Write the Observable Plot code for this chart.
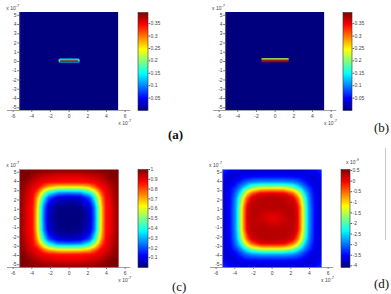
<!DOCTYPE html>
<html><head><meta charset="utf-8">
<script src="https://cdn.jsdelivr.net/npm/d3@7"></script>
<script src="https://cdn.jsdelivr.net/npm/@observablehq/plot@0.6"></script>
<style>
body{margin:0;background:#fff;}
#fig{position:relative;width:391px;height:294px;overflow:hidden;font-family:"Liberation Sans",Arial,sans-serif;background:#fff;}
.lbl{position:absolute;font-family:"Liberation Serif","Times New Roman",serif;font-size:13px;color:#111;line-height:1;}
.exp{position:absolute;font-size:5px;color:#444;line-height:1;white-space:nowrap;}
.exp sup{font-size:4px;}
#vline{position:absolute;left:385px;top:148px;width:1px;height:92px;background:#c8c8c8;}
</style></head>
<body><div id="fig"><div id="vline"></div></div>
<script>
// ---- tick labels ----
const xTicks = [-6, -4, -2, 0, 2, 4, 6];
const yTicks = [-5, -4, -3, -2, -1, 0, 1, 2, 3, 4, 5];
const cbTicksAB = [0.05, 0.1, 0.15, 0.2, 0.25, 0.3, 0.35];
const cbTicksC = [0.1, 0.2, 0.3, 0.4, 0.5, 0.6, 0.7, 0.8, 0.9, 1];
const cbTicksD = [-4, -3.5, -3, -2.5, -2, -1.5, -1, -0.5, 0, 0.5];

// ---- colour ranges ----
const domAB = [0, 0.395];
const domC = [0, 1];
const domD = [-4.08, 0.55];

// ---- panel (a): background and bar ----
const bgA = [0.0];
const barAX1 = [-1.08, -0.95, -0.95];
const barAX2 = [1.18, 1.05, 1.05];
const barAY1 = [-0.17, 0.04, -0.08];
const barAY2 = [0.26, 0.16, 0.04];
const barAVal = [0.14, 0.31, 0.39];

// ---- panel (b): background and bar ----
const bgB = [0.0];
const barBX1 = [-1.4, -1.4, -1.4];
const barBX2 = [1.5, 1.5, 1.5];
const barBY1 = [0.18, 0.06, -0.14];
const barBY2 = [0.30, 0.18, 0.06];
const barBVal = [0.22, 0.29, 0.38];

// ---- grid for panels (c) and (d) ----
const gridX = [-5.3, -4.5, -3.9, -3.5, -3.1, -2.7, -2.2, -1.2, 0, 1.2, 2.2, 2.7, 3.1, 3.5, 3.9, 4.5, 5.3];
const gridY = [5.3, 4.5, 3.9, 3.5, 3.1, 2.7, 2.2, 1.2, 0, -1.2, -2.2, -2.7, -3.1, -3.5, -3.9, -4.5, -5.3];

const fieldC = [
 [1,1,1,1,1,0.99,0.99,0.99,0.99,0.99,0.99,0.99,1,1,1,1,1],
 [1,1,0.97,0.95,0.94,0.93,0.92,0.90,0.90,0.90,0.92,0.93,0.94,0.95,0.97,1,1],
 [1,0.97,0.93,0.91,0.89,0.88,0.87,0.86,0.86,0.86,0.87,0.88,0.89,0.91,0.93,0.97,1],
 [1,0.95,0.91,0.89,0.86,0.80,0.74,0.69,0.68,0.69,0.74,0.80,0.86,0.89,0.91,0.95,1],
 [1,0.94,0.89,0.86,0.76,0.66,0.55,0.46,0.45,0.46,0.55,0.66,0.76,0.86,0.89,0.94,1],
 [0.99,0.93,0.88,0.80,0.66,0.51,0.37,0.24,0.22,0.24,0.37,0.51,0.66,0.80,0.88,0.93,0.99],
 [0.99,0.92,0.87,0.74,0.55,0.37,0.19,0.08,0.06,0.08,0.19,0.37,0.55,0.74,0.87,0.92,0.99],
 [0.99,0.90,0.86,0.69,0.46,0.24,0.08,0.01,0.00,0.01,0.08,0.24,0.46,0.69,0.86,0.90,0.99],
 [0.99,0.90,0.86,0.68,0.45,0.22,0.06,0.00,0.00,0.00,0.06,0.22,0.45,0.68,0.86,0.90,0.99],
 [0.99,0.90,0.86,0.69,0.46,0.24,0.08,0.01,0.00,0.01,0.08,0.24,0.46,0.69,0.86,0.90,0.99],
 [0.99,0.92,0.87,0.74,0.55,0.37,0.19,0.08,0.06,0.08,0.19,0.37,0.55,0.74,0.87,0.92,0.99],
 [0.99,0.93,0.88,0.80,0.66,0.51,0.37,0.24,0.22,0.24,0.37,0.51,0.66,0.80,0.88,0.93,0.99],
 [1,0.94,0.89,0.86,0.76,0.66,0.55,0.46,0.45,0.46,0.55,0.66,0.76,0.86,0.89,0.94,1],
 [1,0.95,0.91,0.89,0.86,0.80,0.74,0.69,0.68,0.69,0.74,0.80,0.86,0.89,0.91,0.95,1],
 [1,0.97,0.93,0.91,0.89,0.88,0.87,0.86,0.86,0.86,0.87,0.88,0.89,0.91,0.93,0.97,1],
 [1,1,0.97,0.95,0.94,0.93,0.92,0.90,0.90,0.90,0.92,0.93,0.94,0.95,0.97,1,1],
 [1,1,1,1,1,0.99,0.99,0.99,0.99,0.99,0.99,0.99,1,1,1,1,1]
];

const fieldD = [
 [-3.30,-3.50,-3.60,-3.66,-3.70,-3.72,-3.74,-3.75,-3.75,-3.75,-3.74,-3.72,-3.70,-3.66,-3.60,-3.50,-3.30],
 [-3.50,-3.72,-3.65,-3.59,-3.54,-3.50,-3.47,-3.45,-3.45,-3.45,-3.47,-3.50,-3.54,-3.59,-3.65,-3.72,-3.50],
 [-3.60,-3.65,-3.50,-3.36,-3.15,-2.99,-2.86,-2.76,-2.75,-2.76,-2.86,-2.99,-3.15,-3.36,-3.50,-3.65,-3.60],
 [-3.66,-3.59,-3.36,-3.06,-2.80,-2.46,-2.11,-1.83,-1.80,-1.83,-2.11,-2.46,-2.80,-3.06,-3.36,-3.59,-3.66],
 [-3.70,-3.54,-3.15,-2.80,-2.24,-1.73,-1.22,-0.79,-0.75,-0.79,-1.22,-1.73,-2.24,-2.80,-3.15,-3.54,-3.70],
 [-3.72,-3.50,-2.99,-2.46,-1.73,-1.04,-0.44,0.06,0.12,0.06,-0.44,-1.04,-1.73,-2.46,-2.99,-3.50,-3.72],
 [-3.74,-3.47,-2.86,-2.11,-1.22,-0.44,0.15,0.28,0.30,0.28,0.15,-0.44,-1.22,-2.11,-2.86,-3.47,-3.74],
 [-3.75,-3.45,-2.76,-1.83,-0.79,0.06,0.28,0.30,0.30,0.30,0.28,0.06,-0.79,-1.83,-2.76,-3.45,-3.75],
 [-3.75,-3.45,-2.75,-1.80,-0.75,0.12,0.30,0.20,0.05,0.20,0.30,0.12,-0.75,-1.80,-2.75,-3.45,-3.75],
 [-3.75,-3.45,-2.76,-1.83,-0.79,0.06,0.28,0.30,0.30,0.30,0.28,0.06,-0.79,-1.83,-2.76,-3.45,-3.75],
 [-3.74,-3.47,-2.86,-2.11,-1.22,-0.44,0.15,0.28,0.30,0.28,0.15,-0.44,-1.22,-2.11,-2.86,-3.47,-3.74],
 [-3.72,-3.50,-2.99,-2.46,-1.73,-1.04,-0.44,0.06,0.12,0.06,-0.44,-1.04,-1.73,-2.46,-2.99,-3.50,-3.72],
 [-3.70,-3.54,-3.15,-2.80,-2.24,-1.73,-1.22,-0.79,-0.75,-0.79,-1.22,-1.73,-2.24,-2.80,-3.15,-3.54,-3.70],
 [-3.66,-3.59,-3.36,-3.06,-2.80,-2.46,-2.11,-1.83,-1.80,-1.83,-2.11,-2.46,-2.80,-3.06,-3.36,-3.59,-3.66],
 [-3.60,-3.65,-3.50,-3.36,-3.15,-2.99,-2.86,-2.76,-2.75,-2.76,-2.86,-2.99,-3.15,-3.36,-3.50,-3.65,-3.60],
 [-3.50,-3.72,-3.65,-3.59,-3.54,-3.50,-3.47,-3.45,-3.45,-3.45,-3.47,-3.50,-3.54,-3.59,-3.65,-3.72,-3.50],
 [-3.30,-3.50,-3.60,-3.66,-3.70,-3.72,-3.74,-3.75,-3.75,-3.75,-3.74,-3.72,-3.70,-3.66,-3.60,-3.50,-3.30]
];

// ---- jet colormap ----
const jetStops = [0, 0.125, 0.375, 0.625, 0.875, 1];
const jetColors = ["#00007f", "#0000ff", "#00ffff", "#ffff00", "#ff0000", "#7f0000"];
function jet(dom) {
  return {type: "linear", domain: jetStops.map(t => dom[0] + t * (dom[1] - dom[0])),
          range: jetColors, interpolate: d3.interpolateRgb, clamp: true};
}

const fig = document.getElementById("fig");
const E = 5.3;            // data half-extent
const XE = 6.6;           // x axis half-extent
const k = 99 / (2 * E);   // px per unit
const ML = 8, MT = 6, MB = 16, MR = 6;
const fmt = d => String(d);

function place(el, left, top) {
  el.style.position = "absolute";
  el.style.left = left + "px";
  el.style.top = top + "px";
  fig.appendChild(el);
}

function gridPoints(field) {
  const pts = [];
  gridY.forEach((y, i) => gridX.forEach((x, j) => pts.push({x, y, v: field[i][j]})));
  return pts;
}

function panel(dataLeft, dataTop, dom, dataMarks) {
  const fw = 2 * XE * k;
  const el = Plot.plot({
    width: ML + fw + MR, height: MT + 98 + MB,
    marginLeft: ML, marginRight: MR, marginTop: MT, marginBottom: MB,
    x: {domain: [-XE, XE], label: null},
    y: {domain: [-E, E], label: null},
    color: jet(dom),
    style: {background: "transparent", overflow: "visible", fontFamily: "Liberation Sans, Arial, sans-serif"},
    marks: [
      ...dataMarks,
      Plot.ruleY([-E], {stroke: "#777", strokeWidth: 0.7}),
      Plot.ruleX([-E], {stroke: "#777", strokeWidth: 0.7}),
      Plot.axisX(xTicks, {tickSize: 2, tickPadding: 1.5, fontSize: 5, stroke: "#777", fill: "#444", tickFormat: fmt, label: null}),
      Plot.axisY(yTicks, {dx: (XE - E) * k, tickSize: 2, tickPadding: 1, fontSize: 5, stroke: "#777", fill: "#444", tickFormat: fmt, label: null})
    ]
  });
  place(el, dataLeft - (XE - E) * k - ML, dataTop - MT);
  const ey = document.createElement("div");
  ey.className = "exp"; ey.innerHTML = "x 10<sup>-7</sup>";
  ey.style.left = (dataLeft - 13) + "px"; ey.style.top = (dataTop - 8) + "px";
  fig.appendChild(ey);
  const ex = document.createElement("div");
  ex.className = "exp"; ex.innerHTML = "x 10<sup>-7</sup>";
  ex.style.left = (dataLeft + 99) + "px"; ex.style.top = (dataTop + 107) + "px";
  fig.appendChild(ex);
}

function colorbar(left, top, w, dom, ticks) {
  const el = Plot.plot({
    width: w + 26, height: 98 + 8,
    marginLeft: 0.5, marginRight: 25.5, marginTop: 4, marginBottom: 4,
    x: {domain: [0, 1], axis: null},
    y: {domain: dom, axis: null},
    color: jet(dom),
    style: {background: "transparent", overflow: "visible", fontFamily: "Liberation Sans, Arial, sans-serif"},
    marks: [
      Plot.raster({x1: 0, x2: 1, y1: dom[0], y2: dom[1], fill: (x, y) => y, pixelSize: 1}),
      Plot.frame({stroke: "#333", strokeWidth: 0.6}),
      Plot.axisY(ticks, {anchor: "right", tickSize: 1.5, tickPadding: 1, fontSize: 5, stroke: "#555", fill: "#444", tickFormat: fmt, label: null})
    ]
  });
  place(el, left - 0.5, top - 4);
}

// (a)
panel(19.3, 12, domAB, [
  Plot.rect(bgA, {x1: -E, x2: E, y1: -E, y2: E, fill: d => d}),
  Plot.rect(barAVal, {x1: barAX1, x2: barAX2, y1: barAY1, y2: barAY2, fill: barAVal, rx: 1.5})
]);
colorbar(137, 12, 10, domAB, cbTicksAB);

// (b)
panel(225, 12, domAB, [
  Plot.rect(bgB, {x1: -E, x2: E, y1: -E, y2: E, fill: d => d}),
  Plot.rect(barBVal, {x1: barBX1, x2: barBX2, y1: barBY1, y2: barBY2, fill: barBVal})
]);
colorbar(342.7, 12, 9, domAB, cbTicksAB);

// (c)
panel(19.3, 168.5, domC, [
  Plot.raster(gridPoints(fieldC), {x: "x", y: "y", fill: "v", x1: -E, x2: E, y1: -E, y2: E, interpolate: "barycentric", pixelSize: 1})
]);
colorbar(137, 168.5, 10, domC, cbTicksC);

// (d)
panel(222, 168.5, domD, [
  Plot.raster(gridPoints(fieldD), {x: "x", y: "y", fill: "v", x1: -E, x2: E, y1: -E, y2: E, interpolate: "barycentric", pixelSize: 1})
]);
colorbar(340, 168.5, 9, domD, cbTicksD);
{
  const e = document.createElement("div");
  e.className = "exp"; e.innerHTML = "x 10<sup>-9</sup>";
  e.style.left = "346px"; e.style.top = "158px";
  fig.appendChild(e);
}

// panel labels
const labels = [["(a)", 168, 128, "bold"], ["(b)", 374, 121, "normal"], ["(c)", 172, 280, "normal"], ["(d)", 374, 277, "normal"]];
for (const [t, l, tp, w] of labels) {
  const d = document.createElement("div");
  d.className = "lbl"; d.textContent = t;
  d.style.left = l + "px"; d.style.top = tp + "px"; d.style.fontWeight = w;
  fig.appendChild(d);
}
</script>
</body></html>
